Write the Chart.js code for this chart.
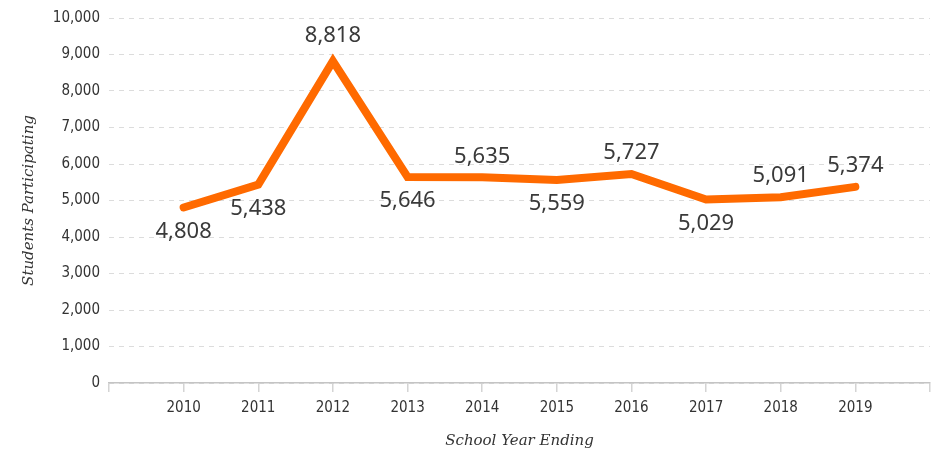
<!DOCTYPE html>
<html>
<head>
<meta charset="utf-8">
<script src="https://cdn.jsdelivr.net/npm/chart.js@4"></script>
<style>
  html, body { margin: 0; padding: 0; background: #fff; }
  #wrap { width: 932px; height: 454px; }
</style>
</head>
<body>
<div id="wrap"><canvas id="chart"></canvas></div>
<script>
// data
const years = [2010, 2011, 2012, 2013, 2014, 2015, 2016, 2017, 2018, 2019];
const students = [4808, 5438, 8818, 5646, 5635, 5559, 5727, 5029, 5091, 5374];
const yTicks = [0, 1000, 2000, 3000, 4000, 5000, 6000, 7000, 8000, 9000, 10000];

// which side of the line each value label sits on
const labelSide = ['below', 'below', 'above', 'below', 'above', 'below', 'above', 'below', 'above', 'above'];

const valueLabels = {
    id: 'valueLabels',
    afterDatasetsDraw(chart) {
        const ctx = chart.ctx;
        const meta = chart.getDatasetMeta(0);
        ctx.save();
        ctx.font = '22px "Noto Sans", "DejaVu Sans", sans-serif';
        ctx.fillStyle = '#3a3a3a';
        ctx.textAlign = 'center';
        ctx.textBaseline = 'middle';
        meta.data.forEach(function (pt, i) {
            let off = labelSide[i] === 'above' ? -21 : 24;
            if (i === 2) off = -25; // peak label sits a bit higher
            ctx.fillText(students[i].toLocaleString('en-US'), pt.x, pt.y + off);
        });
        ctx.restore();
    }
};

new Chart(document.getElementById('chart'), {
    type: 'line',
    data: {
        datasets: [{
            data: years.map((y, i) => ({ x: y, y: students[i] })),
            borderColor: '#ff6a00',
            borderWidth: 8,
            borderJoinStyle: 'miter',
            borderCapStyle: 'round',
            pointRadius: 0,
            tension: 0,
            fill: false
        }]
    },
    options: {
        responsive: true,
        maintainAspectRatio: false,
        animation: false,
        layout: { padding: { top: 13, right: 2, left: 0, bottom: 0 } },
        plugins: {
            legend: { display: false },
            tooltip: { enabled: false }
        },
        scales: {
            x: {
                type: 'linear',
                min: years[0] - 1,
                max: years[years.length - 1] + 1,
                afterBuildTicks: function (s) {
                    s.ticks = [];
                    for (let v = s.min; v <= s.max; v++) s.ticks.push({ value: v });
                },
                afterFit: function (s) {
                    s.height = 71;
                    s.paddingLeft = 0;
                    s.paddingRight = 0;
                },
                border: { display: true, color: '#c4c4c4', width: 1.5 },
                grid: { drawOnChartArea: false, drawTicks: true, tickLength: 9, color: '#d4d4d4', lineWidth: 1.5 },
                ticks: {
                    padding: 7,
                    maxRotation: 0,
                    color: '#333',
                    font: { family: '"Liberation Sans Narrow", "DejaVu Sans Condensed", sans-serif', size: 15 },
                    callback: function (v) { return years.includes(v) ? String(v) : ''; }
                },
                title: {
                    display: true,
                    text: 'School Year Ending',
                    color: '#333',
                    font: { family: '"DejaVu Serif", serif', style: 'italic', size: 15 },
                    padding: { top: 9 }
                }
            },
            y: {
                min: 0,
                max: 10000,
                afterBuildTicks: function (s) { s.ticks = yTicks.map(v => ({ value: v })); },
                afterFit: function (s) { s.width = 109; },
                border: { display: false, dash: [5, 5] },
                grid: { color: '#dcdcdc', lineWidth: 1, drawTicks: false },
                ticks: {
                    padding: 9,
                    color: '#333',
                    font: { family: '"Liberation Sans Narrow", "DejaVu Sans Condensed", sans-serif', size: 15 },
                    callback: function (v) { return v.toLocaleString('en-US'); }
                },
                title: {
                    display: true,
                    text: 'Students Participating',
                    color: '#333',
                    font: { family: '"DejaVu Serif", serif', style: 'italic', size: 15 },
                    padding: { top: 20, bottom: 0 }
                }
            }
        }
    },
    plugins: [valueLabels]
});
</script>
</body>
</html>
